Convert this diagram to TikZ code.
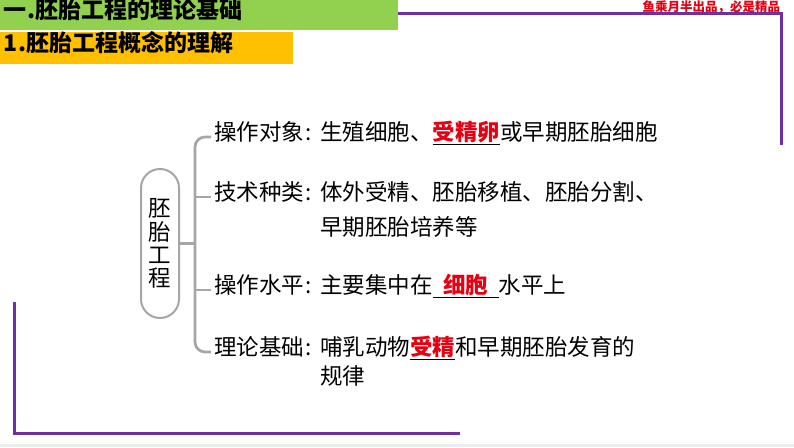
\documentclass[tikz,border=0pt]{standalone}
\usepackage{fontspec}
\setmainfont{Noto Sans CJK SC}
\definecolor{slidegreen}{HTML}{92D050}
\definecolor{slideorange}{HTML}{FFC000}
\definecolor{slidepurple}{HTML}{7030A0}
\definecolor{brgray}{HTML}{A6A6A6}
\definecolor{keyred}{HTML}{E60012}
\newcommand{\keyw}[1]{{\bfseries\color{keyred}#1}}
\newcommand{\ulbox}[2]{\underline{\makebox[#1]{#2}}}
\begin{document}
\begin{tikzpicture}[x=1pt,y=-1pt,
  every node/.style={inner sep=0pt, outer sep=0pt},
  bodytext/.style={anchor=west, font=\fontsize{22.5}{24}\selectfont, text height=.88em, text depth=.12em},
  titletext/.style={anchor=west, font=\fontsize{23}{24}\selectfont\bfseries, text height=.88em, text depth=.12em},
  brline/.style={draw=brgray, line width=2.7pt, rounded corners=10pt},
  frameline/.style={draw=slidepurple, line width=3pt},
  vbox/.style={draw=brgray, line width=2pt, rounded corners=19pt, minimum width=38pt, minimum height=149pt, align=center, font=\fontsize{22.5}{23.3}\selectfont}
]
\useasboundingbox (0,0) rectangle (794,447);
\fill[white] (0,0) rectangle (794,447);
\fill[black!7] (0,444) rectangle (794,447);
% header bars
\fill[slidegreen] (0,0) rectangle (398,30);
\fill[slideorange] (0,32) rectangle (293,64);
\node[titletext] (t1) at (4,15) {一.胚胎工程的理论基础};
\node[titletext] (t2) at (4,48) {1.胚胎工程概念的理解};
\node[anchor=east, font=\fontsize{12.5}{13}\selectfont\bfseries, text=keyred] (sig) at (780,7) {鱼乘月半出品，必是精品};
% purple frame lines
\coordinate (ftl) at (398,13);
\coordinate (ftr) at (781,145);
\draw[frameline] (ftl) -| (ftr);
\coordinate (fbl) at (14,302);
\coordinate (fbr) at (460,433);
\draw[frameline] (fbl) |- (fbr);
% vertical box
\node[vbox] (box) at (160,243.5) {胚\\胎\\工\\程};
% labels
\node[bodytext] (l1) at (214,137) {操作对象\makebox[10pt]{:}};
\node[bodytext] (l2) at (214,197) {技术种类\makebox[10pt]{:}};
\node[bodytext] (l4) at (214,290) {操作水平\makebox[10pt]{:}};
\node[bodytext] (l5) at (214,352) {理论基础\makebox[10pt]{:}};
% contents
\node[bodytext] (c1) at (320,137) {生殖细胞、\underline{\keyw{受精卵}}或早期胚胎细胞};
\node[bodytext] (c2) at (320,197) {体外受精、胚胎移植、胚胎分割、};
\node[bodytext] (c3) at (320,232) {早期胚胎培养等};
\node[bodytext] (c4) at (320,290) {主要集中在\ulbox{66pt}{\keyw{细胞}}水平上};
\node[bodytext] (c5) at (320,352) {哺乳动物\underline{\keyw{受精}}和早期胚胎发育的};
\node[bodytext] (c6) at (320,381) {规律};
% bracket
\coordinate (spine) at (195,0);
\draw[brline] ([xshift=-3pt]l1.west) -| (spine |- l5.west) -- ([xshift=-3pt]l5.west);
\draw[brline] (spine |- l2.west) -- ([xshift=-3pt]l2.west);
\draw[brline] (spine |- l4.west) -- ([xshift=-3pt]l4.west);
\draw[brline] (box.east) -- (spine |- box.east);
\end{tikzpicture}
\end{document}
